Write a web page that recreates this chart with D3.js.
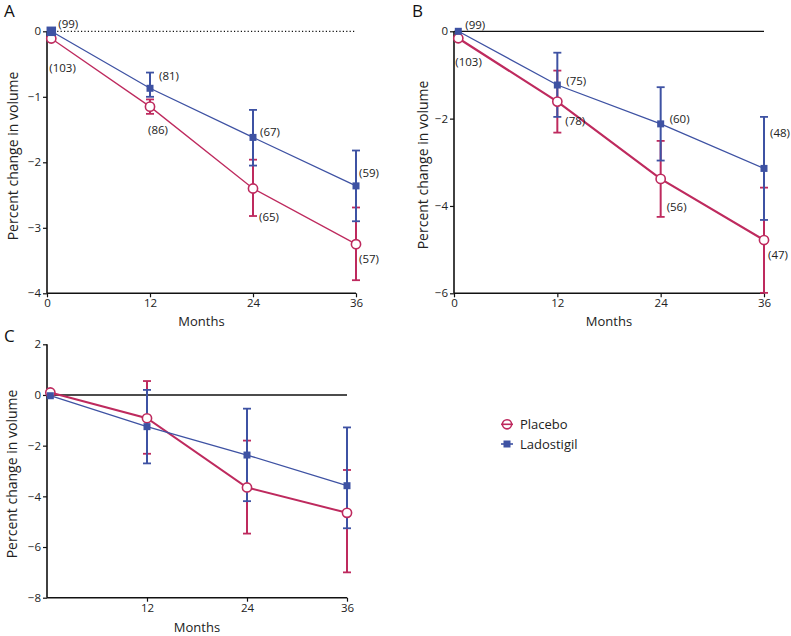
<!DOCTYPE html>
<html><head><meta charset="utf-8">
<script src="https://cdn.jsdelivr.net/npm/d3@7"></script>
<style>body{margin:0;background:#fff}svg{display:block;font-family:"Open Sans",sans-serif}</style>
</head><body>
<script>
// ---------- data ----------
const seriesNames = ["Placebo", "Ladostigil"];
const monthsAB = [0.5, 12, 24, 36];
const monthsC = [0.4, 12, 24, 36];
const xTicksAB = [0, 12, 24, 36];
const xTicksC = [12, 24, 36];
const yTicksA = [0, -1, -2, -3, -4];
const yTicksB = [0, -2, -4, -6];
const yTicksC = [2, 0, -2, -4, -6, -8];

const placeboA = [-0.11, -1.15, -2.40, -3.25];
const placeboA_lo = [null, -1.26, -2.82, -3.80];
const placeboA_hi = [null, -1.04, -1.96, -2.69];
const ladA = [0, -0.87, -1.62, -2.36];
const ladA_lo = [null, -1.00, -2.05, -2.90];
const ladA_hi = [null, -0.63, -1.20, -1.82];
const placeboA_n = [103, 86, 65, 57];
const ladA_n = [99, 81, 67, 59];

const placeboB = [-0.16, -1.61, -3.38, -4.78];
const placeboB_lo = [null, -2.32, -4.25, -5.99];
const placeboB_hi = [null, -0.90, -2.51, -3.58];
const ladB = [0, -1.23, -2.12, -3.14];
const ladB_lo = [null, -1.96, -2.96, -4.32];
const ladB_hi = [null, -0.49, -1.28, -1.96];
const placeboB_n = [103, 78, 56, 47];
const ladB_n = [99, 75, 60, 48];

const placeboC = [0.10, -0.92, -3.65, -4.65];
const placeboC_lo = [null, -2.32, -5.47, -7.00];
const placeboC_hi = [null, 0.55, -1.80, -2.96];
const ladC = [-0.03, -1.25, -2.37, -3.58];
const ladC_lo = [null, -2.70, -4.19, -5.26];
const ladC_hi = [null, 0.20, -0.54, -1.28];

// ---------- style / layout ----------
const PINK = "#be2a5e", BLUE = "#3e52a3";
const W = 791, H = 636;
const svg = d3.select("body").append("svg").attr("width", W).attr("height", H);

// label offsets (pixels) relative to point
const offA_p = [[-2, 29], [-2, 23], [6, 28], [3, 14]];
const offA_l = [[7, -8], [9, -13], [7, -6], [3, -13]];
const offB_p = [[-3, 23], [8, 19], [6, 28], [4, 14]];
const offB_l = [[7, -7], [9, -5], [9, -5], [6, -36]];

const panels = [
  {letter: "A", lx: 4, ly: 17, x0: 47, x1: 356, yTop: 31.3, yBot: 293.3, yDom: [0, -4], yTicks: yTicksA,
   xTicks: xTicksAB, months: monthsAB, zero: "dotted", titleX: 12, titleY: 156, monthsY: 321, firstSq: 9.5,
   p: {v: placeboA, lo: placeboA_lo, hi: placeboA_hi, n: placeboA_n, off: offA_p, w: 1.3},
   l: {v: ladA, lo: ladA_lo, hi: ladA_hi, n: ladA_n, off: offA_l, w: 1.3}},
  {letter: "B", lx: 412, ly: 17, x0: 454, x1: 764, yTop: 31.3, yBot: 293.3, yDom: [0, -6], yTicks: yTicksB,
   xTicks: xTicksAB, months: monthsAB, zero: "solid", titleX: 422, titleY: 165, monthsY: 321, firstSq: 7,
   p: {v: placeboB, lo: placeboB_lo, hi: placeboB_hi, n: placeboB_n, off: offB_p, w: 2.2},
   l: {v: ladB, lo: ladB_lo, hi: ladB_hi, n: ladB_n, off: offB_l, w: 1.3}},
  {letter: "C", lx: 4, ly: 342, x0: 47, x1: 347, yTop: 344.3, yBot: 597.7, yDom: [2, -8], yTicks: yTicksC,
   xTicks: xTicksC, months: monthsC, zero: "solid", titleX: 11, titleY: 474, monthsY: 627, firstSq: 7,
   p: {v: placeboC, lo: placeboC_lo, hi: placeboC_hi, n: null, w: 2.0},
   l: {v: ladC, lo: ladC_lo, hi: ladC_hi, n: null, w: 1.3}}
];

panels.forEach(P => {
  const g = svg.append("g");
  const x = d3.scaleLinear().domain([0, 36]).range([P.x0, P.x1]);
  const y = d3.scaleLinear().domain(P.yDom).range([P.yTop, P.yBot]);

  g.append("text").attr("x", P.lx).attr("y", P.ly).attr("font-size", 17).attr("fill", "#111").text(P.letter);

  g.append("line").attr("x1", x(0)).attr("x2", x(36)).attr("y1", y(0)).attr("y2", y(0))
    .attr("stroke", "#111").attr("stroke-width", P.zero === "dotted" ? 1.2 : 1.3)
    .attr("stroke-dasharray", P.zero === "dotted" ? "1.2,2.2" : null);

  const ya = g.append("g").attr("transform", `translate(${x(0)},0)`)
    .call(d3.axisLeft(y).tickValues(P.yTicks).tickSize(4).tickPadding(2).tickFormat(d => d3.format("d")(d).replace("-", "\u2212")));
  const xa = g.append("g").attr("transform", `translate(0,${y(P.yDom[1])})`)
    .call(d3.axisBottom(x).tickValues(P.xTicks).tickSize(4).tickPadding(2).tickFormat(d3.format("d")));
  [ya, xa].forEach(a => {
    a.select(".domain").attr("stroke", "#111").attr("stroke-width", 1.6);
    a.selectAll(".tick line").attr("stroke", "#111").attr("stroke-width", 1.2);
    a.selectAll(".tick text").attr("font-size", 11.5).attr("fill", "#222").attr("font-family", "'Open Sans',sans-serif");
  });
  ya.select(".domain").attr("d", `M0,${y(P.yDom[0])}V${y(P.yDom[1])}`);
  xa.select(".domain").attr("d", `M${x(0)},0H${x(36)}`);

  g.append("text").attr("transform", `translate(${P.titleX},${P.titleY}) rotate(-90)`)
    .attr("text-anchor", "middle").attr("dominant-baseline", "central").attr("font-size", 14).attr("fill", "#222")
    .text("Percent change in volume");
  g.append("text").attr("x", (P.x0 + P.x1) / 2).attr("y", P.monthsY).attr("text-anchor", "middle")
    .attr("dominant-baseline", "central").attr("font-size", 13).attr("fill", "#222").text("Months");

  const line = d3.line().x((d, i) => x(P.months[i])).y(d => y(d));
  const series = [[P.p, PINK], [P.l, BLUE]];

  series.forEach(([S, c]) => {
    g.append("path").attr("d", line(S.v)).attr("fill", "none").attr("stroke", c).attr("stroke-width", S.w);
  });
  series.forEach(([S, c]) => {
    S.v.forEach((v, i) => {
      if (S.lo[i] == null) return;
      const cx = x(P.months[i]);
      g.append("line").attr("x1", cx).attr("x2", cx).attr("y1", y(S.hi[i])).attr("y2", y(S.lo[i]))
        .attr("stroke", c).attr("stroke-width", 2);
      [S.hi[i], S.lo[i]].forEach(e => {
        g.append("line").attr("x1", cx - 4).attr("x2", cx + 4).attr("y1", y(e)).attr("y2", y(e))
          .attr("stroke", c).attr("stroke-width", 1.8);
      });
    });
  });
  P.p.v.forEach((v, i) => {
    g.append("circle").attr("cx", x(P.months[i])).attr("cy", y(v)).attr("r", 4.6)
      .attr("fill", "#fff").attr("stroke", PINK).attr("stroke-width", 1.6);
  });
  P.l.v.forEach((v, i) => {
    const s = i === 0 ? P.firstSq : 7;
    g.append("rect").attr("x", x(P.months[i]) - s / 2).attr("y", y(v) - s / 2).attr("width", s).attr("height", s)
      .attr("fill", BLUE);
  });
  series.forEach(([S]) => {
    if (!S.n) return;
    S.n.forEach((n, i) => {
      g.append("text").attr("x", x(P.months[i]) + S.off[i][0]).attr("y", y(S.v[i]) + S.off[i][1])
        .attr("dominant-baseline", "central").attr("font-size", 11.5).attr("fill", "#222").text(`(${n})`);
    });
  });
});

// legend
const lg = svg.append("g");
const legendItems = [[seriesNames[0], PINK, "circle", 424.3], [seriesNames[1], BLUE, "rect", 444]];
legendItems.forEach(([name, c, shape, ly]) => {
  lg.append("line").attr("x1", 501).attr("x2", 513).attr("y1", ly).attr("y2", ly).attr("stroke", c).attr("stroke-width", 1.6);
  if (shape === "circle") {
    lg.append("circle").attr("cx", 507).attr("cy", ly).attr("r", 4.6).attr("fill", "none").attr("stroke", c).attr("stroke-width", 1.6);
  } else {
    lg.append("rect").attr("x", 503.5).attr("y", ly - 3.5).attr("width", 7).attr("height", 7).attr("fill", c);
  }
  lg.append("text").attr("x", 520).attr("y", ly).attr("dominant-baseline", "central").attr("font-size", 13)
    .attr("fill", "#222").text(name);
});
</script>
</body></html>
